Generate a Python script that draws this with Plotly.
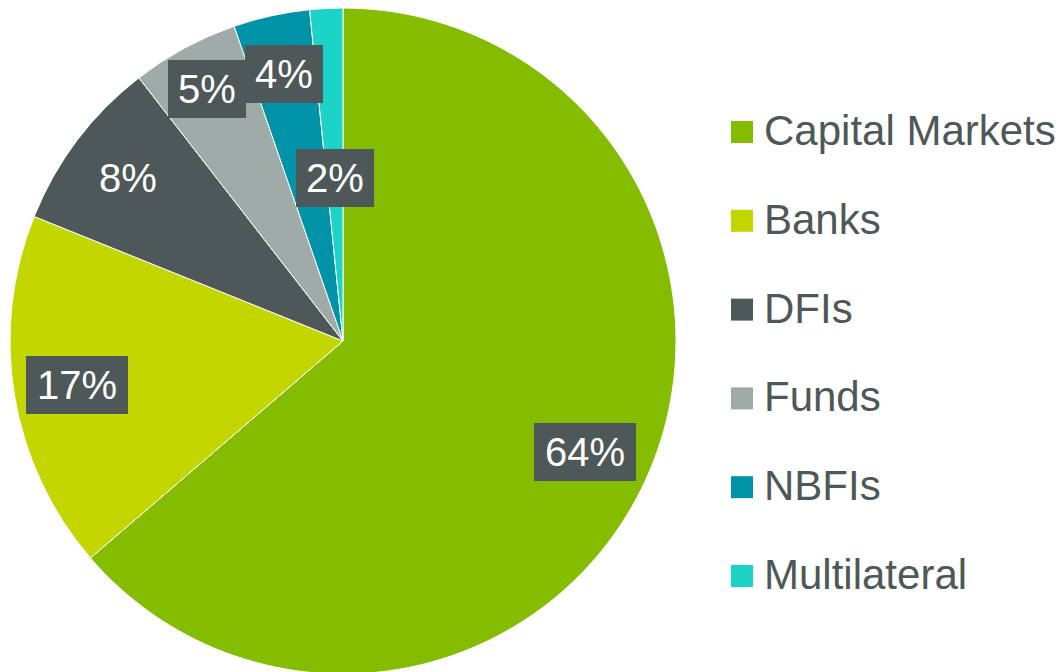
"""Pie chart: funding sources split."""

import math

import plotly.graph_objects as go

# data
labels = ["Capital Markets", "Banks", "DFIs", "Funds", "NBFIs", "Multilateral"]
values = [63.7, 17.4, 8.4, 5.2, 3.7, 1.6]
colors = ["#84bd00", "#c4d600", "#4e5858", "#a0aaa8", "#0092a6", "#1bd3c7"]
# how far from the centre each % label sits (fraction of radius)
label_radius = [0.80, 0.81, 0.81, 0.86, 0.82, 0.49]

W, H = 1063, 672
FONT = "Liberation Sans, Arial, sans-serif"
DARK = "#4e5858"

# pie geometry in figure pixels
cx, cy, R = 335, 333, 333


def px(x, y):
    """figure pixels -> paper coords"""
    return x / W, 1 - y / H


fig = go.Figure(
    go.Pie(
        labels=labels,
        values=values,
        sort=False,
        direction="clockwise",
        rotation=0,
        marker=dict(colors=colors, line=dict(color="white", width=1)),
        textinfo="none",
        showlegend=False,
        domain=dict(x=[(cx - R) / W, (cx + R) / W], y=[1 - (cy + R) / H, 1 - (cy - R) / H]),
    )
)

# percentage labels in dark boxes, placed at each slice's mid angle
total = sum(values)
cum = 0
annotations = []
for v, rf in zip(values, label_radius):
    mid = (cum + v / 2) / total * 2 * math.pi
    cum += v
    r = rf * R
    x, y = px(cx + r * math.sin(mid), cy - r * math.cos(mid))
    txt = f"{round(v)}%"
    annotations.append(
        dict(
            x=x,
            y=y,
            xref="paper",
            yref="paper",
            xanchor="center",
            yanchor="middle",
            text=txt,
            showarrow=False,
            font=dict(family=FONT, size=40, color="white"),
            bgcolor=DARK,
            borderpad=0,
            borderwidth=0,
            width=24 * (len(txt) - 1) + 54,
            height=58,
        )
    )

# legend built by hand (large spacing between entries)
shapes = []
leg_x, leg_y0, leg_step, sq = 723, 124, 88.8, 22
for i, (name, col) in enumerate(zip(labels, colors)):
    yc = leg_y0 + i * leg_step
    x0, y0 = px(leg_x, yc + sq / 2)
    x1, y1 = px(leg_x + sq, yc - sq / 2)
    shapes.append(
        dict(
            type="rect",
            xref="paper",
            yref="paper",
            x0=x0,
            x1=x1,
            y0=y0,
            y1=y1,
            fillcolor=col,
            line=dict(width=0),
        )
    )
    tx, ty = px(leg_x + sq + 9, yc - 1.5)
    annotations.append(
        dict(
            x=tx,
            y=ty,
            xref="paper",
            yref="paper",
            xanchor="left",
            yanchor="middle",
            text=name,
            showarrow=False,
            font=dict(family=FONT, size=42, color=DARK),
        )
    )

fig.update_layout(
    width=W,
    height=H,
    margin=dict(l=0, r=0, t=0, b=0),
    paper_bgcolor="white",
    plot_bgcolor="white",
    annotations=annotations,
    shapes=shapes,
)

fig.write_html("out.html")
